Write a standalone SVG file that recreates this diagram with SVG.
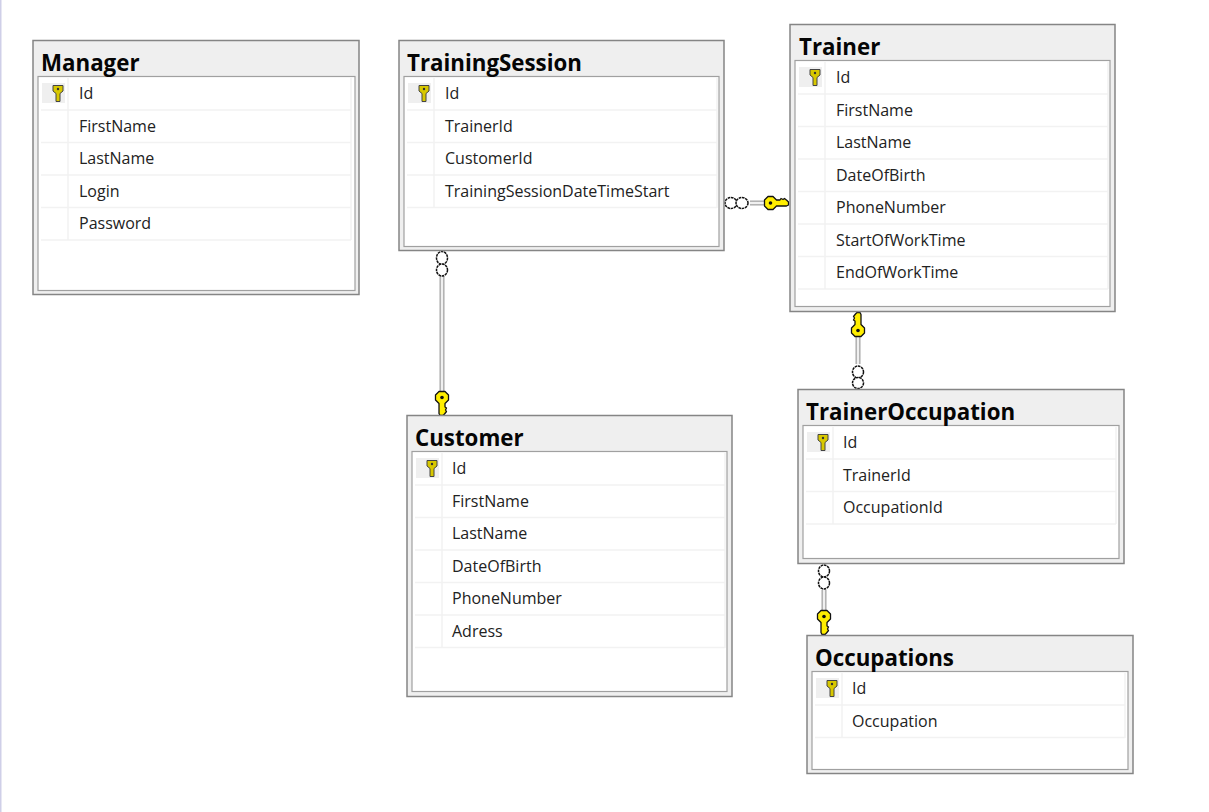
<svg xmlns="http://www.w3.org/2000/svg" xmlns:xlink="http://www.w3.org/1999/xlink" width="1209" height="812" viewBox="0 0 1209 812">
<style>
.outer{fill:#efefef;stroke:#858585;stroke-width:1.5}
.inner{fill:#fff;stroke:#a0a0a0;stroke-width:1.2}
.grid{stroke:#f2f2f2;stroke-width:1.5;fill:none}
.keycell{fill:#efefef}
.title{font-family:"Open Sans","Noto Sans",sans-serif;font-weight:700;font-size:22.3px;fill:#050505}
.col{font-family:"Open Sans","Noto Sans",sans-serif;font-size:16px;fill:#222}
.rel{fill:none;stroke:#a4a4a4;stroke-width:5}
.relc{fill:none;stroke:#f0f0f0;stroke-width:2.4}
.ring{fill:#fff;stroke:#111;stroke-width:1.5;stroke-dasharray:2.6 0.7}
.bigkey{fill:#ffee00;stroke:#111;stroke-width:1.3;stroke-linejoin:round}
.smallkey{fill:#d8c800;stroke:#444;stroke-width:1}
</style>
<defs>
<g id="pk"><rect class="keycell" x="-16" y="-10" width="23" height="20"/><path class="smallkey" d="M-5-7.500H5V-2L2 0.500V8.500H-2V0.500L-5-2Z"/><circle cx="0" cy="-4" r="1.200" fill="#333"/></g>
<g id="fk"><path class="bigkey" d="M-3 2.500L-6.500-1V-6L-3-9.500H3L6.500-6V-1L3 2.500V6L4.500 7L3.500 9L4.500 10.500L2.500 13L1 14.500H-2L-3 12.500Z"/><circle cx="0" cy="-3.500" r="1.800" fill="#111"/></g>
</defs>
<rect width="1209" height="812" fill="#fff"/>
<rect x="0" y="0" width="1.500" height="812" fill="#cfcfe8"/>

<g id="connectors">
<path class="rel" d="M750 203H768"/><path class="relc" d="M750 203H768"/>
<ellipse class="ring" cx="731" cy="203" rx="6" ry="5.500"/><ellipse class="ring" cx="742" cy="203" rx="6" ry="5.500"/>
<use xlink:href="#fk" href="#fk" transform="translate(774 203) rotate(-90)"/>
<path class="rel" d="M442 276V392"/><path class="relc" d="M442 276V392"/>
<ellipse class="ring" cx="442" cy="258" rx="5.500" ry="6.500"/><ellipse class="ring" cx="442" cy="270" rx="5.500" ry="6"/>
<use xlink:href="#fk" href="#fk" transform="translate(442 401)"/>
<path class="rel" d="M858 336V364"/><path class="relc" d="M858 336V364"/>
<use xlink:href="#fk" href="#fk" transform="translate(858 327) rotate(180)"/>
<ellipse class="ring" cx="858" cy="372" rx="5.500" ry="6"/><ellipse class="ring" cx="858" cy="383" rx="5.500" ry="5.500"/>
<path class="rel" d="M824 590V612"/><path class="relc" d="M824 590V612"/>
<ellipse class="ring" cx="824" cy="571" rx="5.500" ry="6"/><ellipse class="ring" cx="824" cy="583" rx="5.500" ry="6"/>
<use xlink:href="#fk" href="#fk" transform="translate(824 620)"/>
</g>

<g id="Manager">
<rect class="outer" x="33" y="40.500" width="326" height="254"/>
<rect class="inner" x="38" y="76.500" width="317" height="214"/>
<path class="grid" d="M41 110H351M41 142.500H351M41 175H351M41 207.500H351M41 240H351M68 78V240M351 78V240"/>
<use xlink:href="#pk" href="#pk" transform="translate(58 93)"/>
<text class="title" x="41" y="71">Manager</text>
<text class="col" x="79" y="99">Id</text><text class="col" x="79" y="131.500">FirstName</text><text class="col" x="79" y="164">LastName</text><text class="col" x="79" y="196.500">Login</text><text class="col" x="79" y="229">Password</text>
</g>

<g id="TrainingSession">
<rect class="outer" x="399" y="40.500" width="325" height="210"/>
<rect class="inner" x="404" y="76.500" width="315" height="170"/>
<path class="grid" d="M407 110H717M407 142.500H717M407 175H717M407 207.500H717M434 78V208M717 78V208"/>
<use xlink:href="#pk" href="#pk" transform="translate(424 93)"/>
<text class="title" x="407" y="71">TrainingSession</text>
<text class="col" x="445" y="99">Id</text><text class="col" x="445" y="131.500">TrainerId</text><text class="col" x="445" y="164">CustomerId</text><text class="col" x="445" y="196.500">TrainingSessionDateTimeStart</text>
</g>

<g id="Trainer">
<rect class="outer" x="790" y="24.500" width="325" height="287"/>
<rect class="inner" x="795" y="60.500" width="315" height="246"/>
<path class="grid" d="M798 94H1108M798 126.500H1108M798 159H1108M798 191.500H1108M798 224H1108M798 256.500H1108M798 289H1108M825 62V289M1108 62V289"/>
<use xlink:href="#pk" href="#pk" transform="translate(815 77)"/>
<text class="title" x="799" y="55">Trainer</text>
<text class="col" x="836" y="83">Id</text><text class="col" x="836" y="115.500">FirstName</text><text class="col" x="836" y="148">LastName</text><text class="col" x="836" y="180.500">DateOfBirth</text><text class="col" x="836" y="213">PhoneNumber</text><text class="col" x="836" y="245.500">StartOfWorkTime</text><text class="col" x="836" y="278">EndOfWorkTime</text>
</g>

<g id="Customer">
<rect class="outer" x="407" y="415.500" width="325" height="281"/>
<rect class="inner" x="412" y="451.500" width="315" height="240"/>
<path class="grid" d="M415 485H725M415 517.500H725M415 550H725M415 582.500H725M415 615H725M415 647.500H725M442 453V648M725 453V648"/>
<use xlink:href="#pk" href="#pk" transform="translate(432 468)"/>
<text class="title" x="415" y="446">Customer</text>
<text class="col" x="452" y="474">Id</text><text class="col" x="452" y="506.500">FirstName</text><text class="col" x="452" y="539">LastName</text><text class="col" x="452" y="571.500">DateOfBirth</text><text class="col" x="452" y="604">PhoneNumber</text><text class="col" x="452" y="636.500">Adress</text>
</g>

<g id="TrainerOccupation">
<rect class="outer" x="798" y="389.500" width="326" height="174"/>
<rect class="inner" x="803" y="425.500" width="316" height="133"/>
<path class="grid" d="M806 459H1116M806 491.500H1116M806 524H1116M833 427V524M1116 427V524"/>
<use xlink:href="#pk" href="#pk" transform="translate(823 442)"/>
<text class="title" x="806" y="420">TrainerOccupation</text>
<text class="col" x="843" y="448">Id</text><text class="col" x="843" y="480.500">TrainerId</text><text class="col" x="843" y="513">OccupationId</text>
</g>

<g id="Occupations">
<rect class="outer" x="807" y="635.500" width="326" height="138"/>
<rect class="inner" x="812" y="671.500" width="316" height="98"/>
<path class="grid" d="M815 705H1125M815 737.500H1125M842 673V738M1125 673V738"/>
<use xlink:href="#pk" href="#pk" transform="translate(832 688)"/>
<text class="title" x="815" y="666">Occupations</text>
<text class="col" x="852" y="694">Id</text><text class="col" x="852" y="726.500">Occupation</text>
</g>
</svg>
